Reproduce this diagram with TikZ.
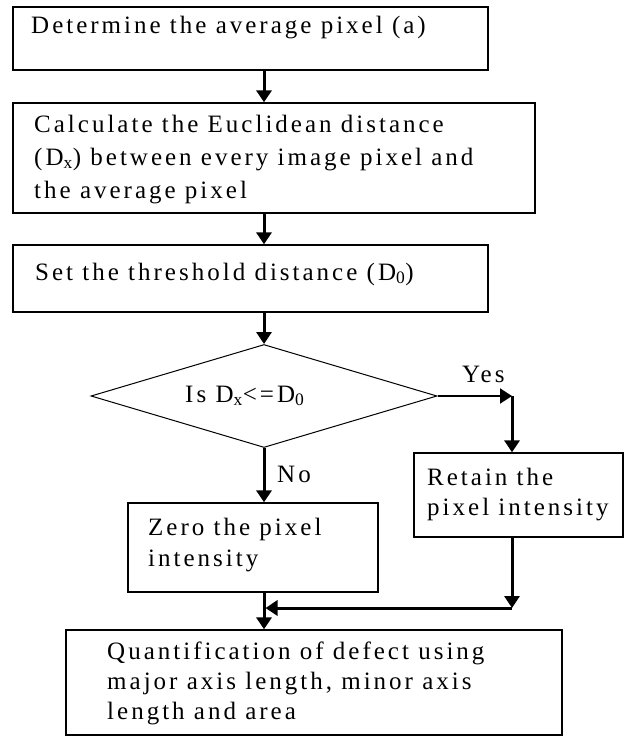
\documentclass[tikz,border=0pt]{standalone}
\usepackage{fontspec}
\setmainfont{Liberation Serif}[LetterSpace=12]
\usetikzlibrary{arrows.meta,shapes.geometric}
\tikzset{
  box/.style={draw, line width=1.3pt, rectangle, inner sep=0pt},
  dec/.style={draw, line width=1pt, diamond, inner sep=0pt},
  txt/.style={inner sep=0pt, anchor=base west, font=\fontsize{25pt}{30pt}\selectfont},
  arr/.style={line width=3pt, -{Triangle[width=15pt,length=12pt]}},
  thinarr/.style={line width=2pt, -{Triangle[width=15pt,length=12pt]}},
}
\begin{document}
\begin{tikzpicture}[x=1pt,y=-1pt]
\useasboundingbox[fill=white] (0,0) rectangle (626,736);
% boxes
\node[box, minimum width=475pt, minimum height=63pt] (b1) at (250.5,38.5) {};
\node[box, minimum width=522pt, minimum height=110pt] (b2) at (274,158) {};
\node[box, minimum width=475pt, minimum height=67pt] (b3) at (250.5,278.5) {};
\node[dec, minimum width=346pt, minimum height=103pt] (dia) at (264,396) {};
\node[box, minimum width=209pt, minimum height=84pt] (ret) at (518.5,495) {};
\node[box, minimum width=250pt, minimum height=89pt] (zero) at (253,547.5) {};
\node[box, minimum width=496pt, minimum height=105pt] (b4) at (314,682.5) {};
% texts
\node[txt] (t1) at (31,33) {Determine the average pixel (a)};
\node[txt] (t2a) at (34,132) {Calculate the Euclidean distance};
\node[txt] (t2b) at (34,165) {(D\textsubscript{x}) between every image pixel and};
\node[txt] (t2c) at (34,198) {the average pixel};
\node[txt] (t3) at (35,280) {Set the threshold distance (D\textsubscript{0})};
\node[txt] (td) at (185,402) {Is D\textsubscript{x}<=D\textsubscript{0}};
\node[txt] (yes) at (462,382) {Yes};
\node[txt] (no) at (277,482) {No};
\node[txt] (tr1) at (427,485) {Retain the};
\node[txt] (tr2) at (427,515) {pixel intensity};
\node[txt] (tz1) at (148,535) {Zero the pixel};
\node[txt] (tz2) at (148,566) {intensity};
\node[txt] (t4a) at (107,659) {Quantification of defect using};
\node[txt] (t4b) at (107,689) {major axis length, minor axis};
\node[txt] (t4c) at (107,719) {length and area};
% connectors
\coordinate (yc) at (512,396);
\coordinate (mc) at (512,608);
\draw[arr] (b1.south -| dia.north) -- (b2.north -| dia.north);
\draw[arr] (b2.south -| dia.north) -- (b3.north -| dia.north);
\draw[arr] (b3.south -| dia.north) -- (dia.north);
\draw[thinarr] (dia.east) -- (yc);
\draw[arr] (yc) -- (ret.north -| yc);
\draw[arr] (dia.south) -- (zero.north -| dia.south);
\draw[arr] (ret.south -| yc) -- (mc);
\draw[arr, shorten >=1.5pt] (mc) -- (mc -| dia.south);
\draw[arr] (zero.south -| dia.south) -- (b4.north -| dia.south);
\end{tikzpicture}
\end{document}
